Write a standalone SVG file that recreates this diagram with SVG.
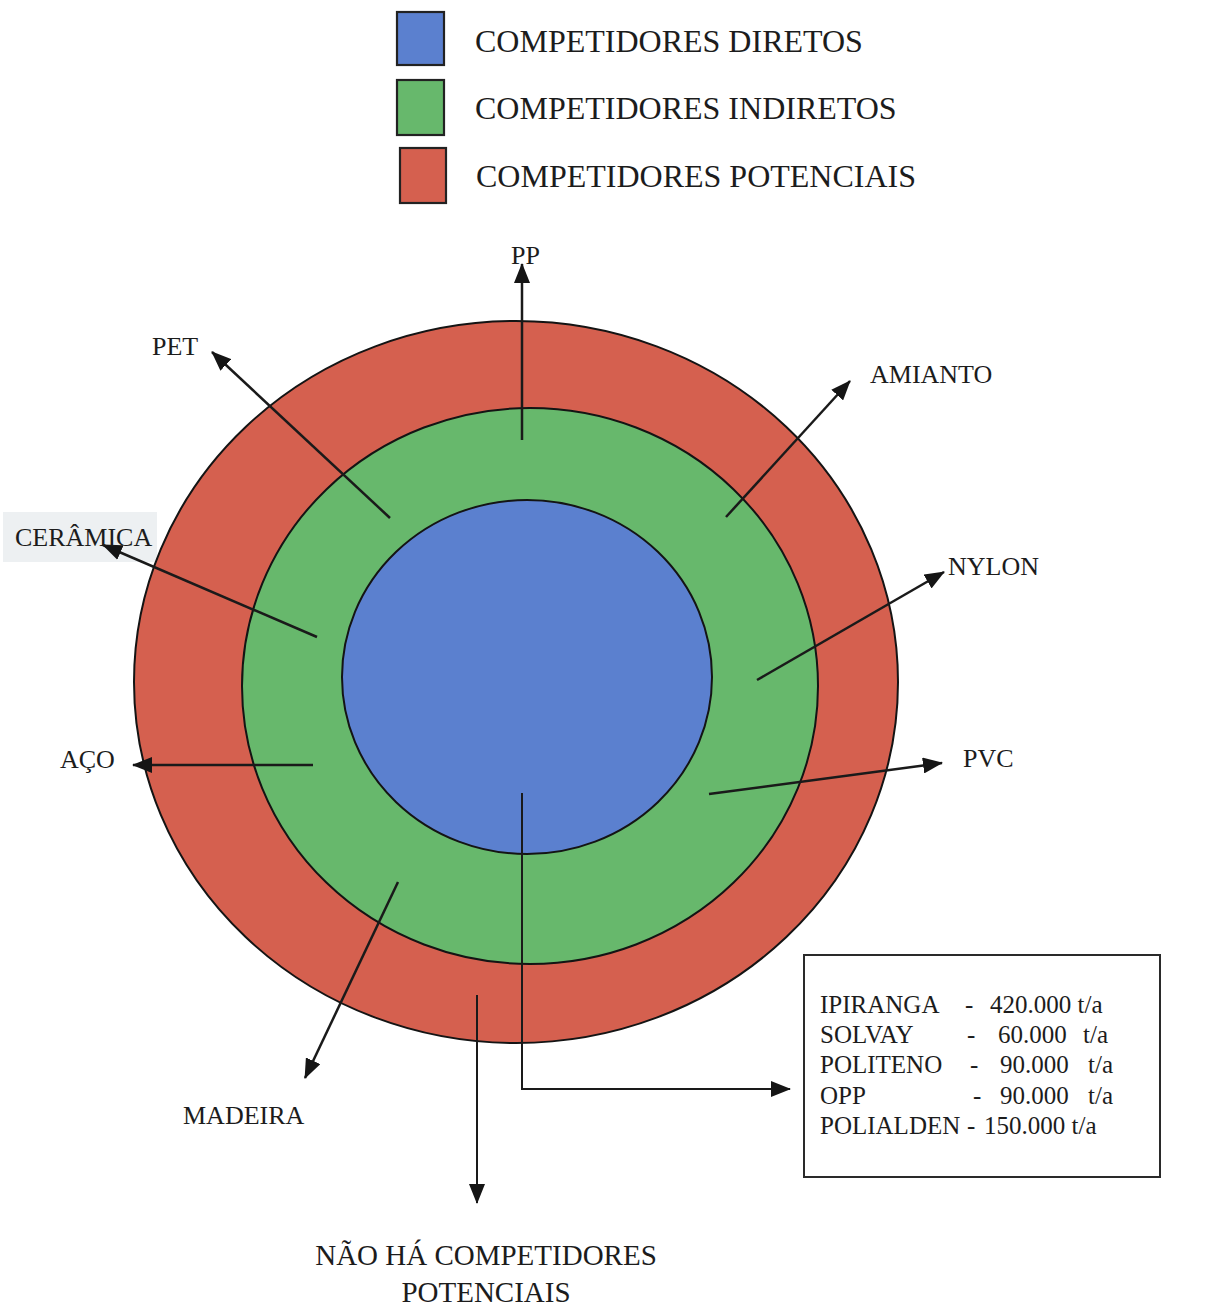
<svg xmlns="http://www.w3.org/2000/svg" width="1229" height="1309" viewBox="0 0 1229 1309">
  <defs>
    <style>
      text { font-family: "Liberation Serif", "Times New Roman", serif; fill: #1c1c1c; }
      .legend { font-size: 32px; }
      .lbl { font-size: 26px; }
      .box { font-size: 25px; }
      .note { font-size: 29px; text-anchor: middle; }
      .ring { stroke: #141414; stroke-width: 2; }
      .arrow { stroke: #1a1a1a; stroke-width: 2.5; fill: none; marker-end: url(#head); }
      .thin { stroke-width: 2; }
      .sw { stroke: #222; stroke-width: 2.2; }
    </style>
    <marker id="head" viewBox="0 0 20 16" markerWidth="20" markerHeight="16" refX="19" refY="8" orient="auto" markerUnits="userSpaceOnUse">
      <path d="M0,0 L20,8 L0,16 z" fill="#151515"/>
    </marker>
  </defs>

  <rect width="1229" height="1309" fill="#ffffff"/>
  <!-- faint shaded patch behind the CERÂMICA label -->
  <rect x="3" y="512" width="154" height="50" fill="#edf0f2"/>

  <!-- legend -->
  <g id="legend">
    <g id="legend-direct">
      <rect class="sw" x="397" y="12" width="47" height="53" fill="#5b80cf"/>
      <text class="legend" x="475" y="52">COMPETIDORES DIRETOS</text>
    </g>
    <g id="legend-indirect">
      <rect class="sw" x="397" y="80" width="47" height="55" fill="#67b86c"/>
      <text class="legend" x="475" y="119">COMPETIDORES INDIRETOS</text>
    </g>
    <g id="legend-potential">
      <rect class="sw" x="400" y="148" width="46" height="55" fill="#d5604f"/>
      <text class="legend" x="476" y="187">COMPETIDORES POTENCIAIS</text>
    </g>
  </g>

  <!-- concentric rings -->
  <g id="rings">
    <ellipse id="ring-potential" class="ring" cx="516" cy="682" rx="382" ry="361" fill="#d5604f"/>
    <ellipse id="ring-indirect" class="ring" cx="530" cy="686" rx="288" ry="278" fill="#67b86c"/>
    <ellipse id="ring-direct" class="ring" cx="527" cy="677" rx="185" ry="177" fill="#5b80cf"/>
  </g>

  <!-- connectors -->
  <g id="connectors">
    <line class="arrow" x1="522" y1="440" x2="522" y2="264"/>
    <line class="arrow" x1="390" y1="518" x2="212" y2="352"/>
    <line class="arrow" x1="317" y1="637" x2="103" y2="545"/>
    <line class="arrow" x1="313" y1="765" x2="133" y2="765"/>
    <line class="arrow" x1="726" y1="517" x2="850" y2="381"/>
    <line class="arrow" x1="757" y1="680" x2="944" y2="572"/>
    <line class="arrow" x1="709" y1="794" x2="942" y2="763"/>
    <line class="arrow" x1="398" y1="882" x2="305" y2="1078"/>
    <line class="arrow thin" x1="477" y1="995" x2="477" y2="1203"/>
    <polyline class="arrow thin" points="522,793 522,1089 790,1089"/>
  </g>

  <!-- labels -->
  <g id="label-pp"><text class="lbl" x="511" y="264">PP</text></g>
  <g id="label-pet"><text class="lbl" x="152" y="355">PET</text></g>
  <g id="label-ceramica"><text class="lbl" x="15" y="546">CERÂMICA</text></g>
  <g id="label-aco"><text class="lbl" x="60" y="768">AÇO</text></g>
  <g id="label-amianto"><text class="lbl" x="870" y="383">AMIANTO</text></g>
  <g id="label-nylon"><text class="lbl" x="948" y="575">NYLON</text></g>
  <g id="label-pvc"><text class="lbl" x="963" y="767">PVC</text></g>
  <g id="label-madeira"><text class="lbl" x="183" y="1124">MADEIRA</text></g>
  <g id="label-none">
    <text class="note" x="486" y="1265">NÃO HÁ COMPETIDORES</text>
    <text class="note" x="486" y="1302">POTENCIAIS</text>
  </g>

  <!-- producers box -->
  <g id="producers">
    <rect x="804" y="955" width="356" height="222" fill="#ffffff" stroke="#2a2a2a" stroke-width="2"/>
    <text class="box" x="820" y="1013">IPIRANGA</text>
    <text class="box" x="965" y="1013">-</text>
    <text class="box" x="990" y="1013">420.000 t/a</text>
    <text class="box" x="820" y="1043">SOLVAY</text>
    <text class="box" x="967" y="1043">-</text>
    <text class="box" x="998" y="1043">60.000</text>
    <text class="box" x="1083" y="1043">t/a</text>
    <text class="box" x="820" y="1073">POLITENO</text>
    <text class="box" x="970" y="1073">-</text>
    <text class="box" x="1000" y="1073">90.000</text>
    <text class="box" x="1088" y="1073">t/a</text>
    <text class="box" x="820" y="1104">OPP</text>
    <text class="box" x="973" y="1104">-</text>
    <text class="box" x="1000" y="1104">90.000</text>
    <text class="box" x="1088" y="1104">t/a</text>
    <text class="box" x="820" y="1134">POLIALDEN</text>
    <text class="box" x="967" y="1134">-</text>
    <text class="box" x="984" y="1134">150.000 t/a</text>
  </g>
</svg>
